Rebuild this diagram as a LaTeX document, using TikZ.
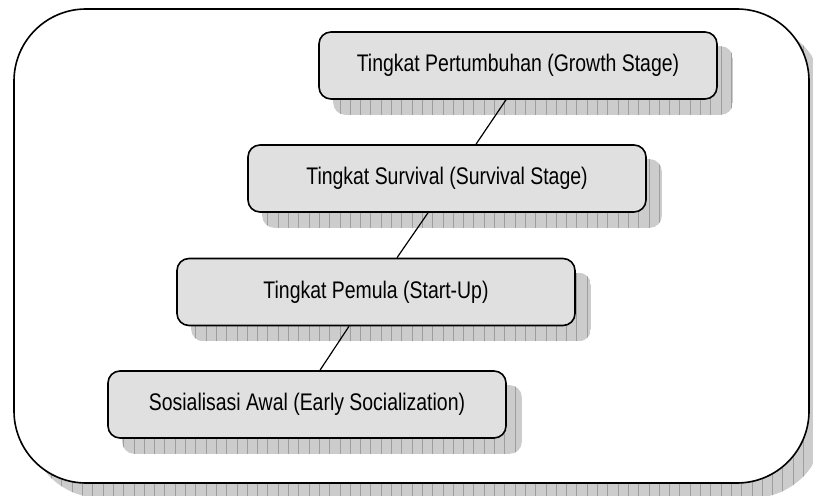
\documentclass[tikz,border=0pt]{standalone}
\usepackage{fontspec}
\setmainfont{Liberation Sans}[FakeStretch=0.81]
\pgfdeclarelayer{outerlayer}
\pgfdeclarelayer{shadlayer}
\pgfsetlayers{outerlayer,shadlayer,main}
\definecolor{boxfill}{RGB}{224,224,224}
\definecolor{shadfill}{RGB}{204,204,204}
\definecolor{shadgrid}{RGB}{158,158,158}
\tikzset{
  stagebox/.style={draw=black, line width=1.6pt, fill=boxfill, rounded corners=12pt,
    minimum width=398pt, minimum height=67pt, inner sep=0pt,
    font=\fontsize{24}{28}\selectfont},
  link/.style={line width=1.2pt},
  frame/.style={draw=black, line width=1.6pt, rounded corners=72pt, fill=white},
  shadowfill/.style={fill=shadfill},
  shadowgrid/.style={draw=shadgrid, line width=0.8pt},
}
\begin{document}
\begin{tikzpicture}[x=1pt,y=-1pt]
\useasboundingbox (0,0) rectangle (813,495);
\coordinate (fnw) at (14,9);
\coordinate (fse) at (809,483);
% outer frame and its shadow
\begin{pgfonlayer}{outerlayer}
  \begin{scope}
    \clip (0,0) rectangle (813,495);
    \clip[rounded corners=72pt] ([shift={(15pt,-15pt)}]fnw) rectangle ([shift={(15pt,-15pt)}]fse);
    \fill[shadowfill] ([shift={(15pt,-15pt)}]fnw) rectangle ([shift={(15pt,-15pt)}]fse);
    \draw[shadowgrid, step=10.3] ([shift={(15pt,-15pt)}]fnw) grid ([shift={(15pt,-15pt)}]fse);
  \end{scope}
  \draw[frame] (fnw) rectangle (fse);
\end{pgfonlayer}
% stage boxes
\node[stagebox] (g) at (518,65.5) {Tingkat Pertumbuhan (Growth Stage)};
\node[stagebox] (s) at (447,178.5) {Tingkat Survival (Survival Stage)};
\node[stagebox] (p) at (376,292) {Tingkat Pemula (Start-Up)};
\node[stagebox] (e) at (307,404.5) {Sosialisasi Awal (Early Socialization)};
% shadows of the stage boxes
\begin{pgfonlayer}{shadlayer}
  \foreach \b in {g,s,p,e}{
    \begin{scope}
      \clip[rounded corners=12pt] ([shift={(15pt,-15pt)}]\b.south west) rectangle ([shift={(15pt,-15pt)}]\b.north east);
      \fill[shadowfill] ([shift={(15pt,-15pt)}]\b.south west) rectangle ([shift={(15pt,-15pt)}]\b.north east);
      \draw[shadowgrid, step=10.3] ([shift={(15pt,-15pt)}]\b.south west) grid ([shift={(15pt,-15pt)}]\b.north east);
    \end{scope}
  }
\end{pgfonlayer}
% connectors
\draw[link] ([xshift=-12pt]g.south) -- ([xshift=29pt]s.north);
\draw[link] ([xshift=-19pt]s.south) -- ([xshift=21pt]p.north);
\draw[link] ([xshift=-27pt]p.south) -- ([xshift=13pt]e.north);
\end{tikzpicture}
\end{document}
